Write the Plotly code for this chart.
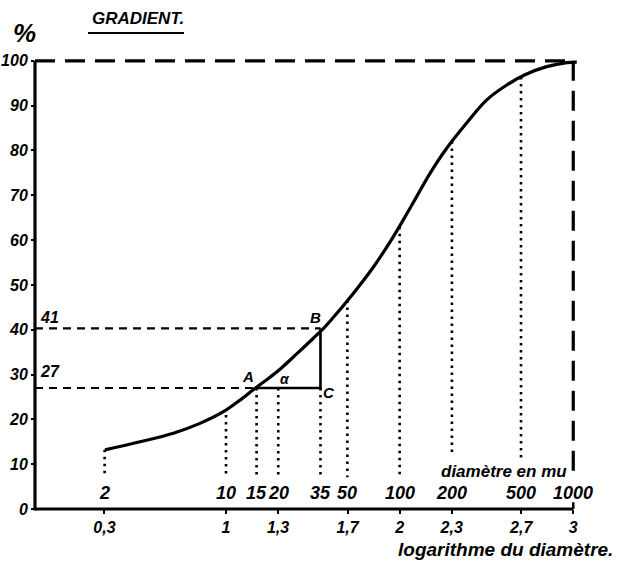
import numpy as np
import plotly.graph_objects as go

# ---- data ----
curve_logd = [0.303, 0.505, 0.697, 0.850, 0.985, 1.081, 1.157, 1.253, 1.311, 1.407,
              1.503, 1.559, 1.599, 1.733, 1.849, 1.945, 2.021, 2.098, 2.175, 2.271,
              2.387, 2.502, 2.617, 2.722, 2.847, 2.963, 3.02]
curve_pct = [13.2, 15.0, 16.9, 19.1, 21.7, 24.3, 26.6, 29.4, 31.2, 34.6,
             38.1, 40.2, 41.9, 48.1, 54.0, 59.6, 64.5, 69.7, 74.9, 80.5,
             86.2, 91.3, 94.6, 96.9, 98.7, 99.6, 99.7]

drop_diam = [2, 10, 15, 20, 35, 50, 100, 200, 500]
drop_top = [13.2, 21, 27, 27, 27, 46.5, 63, 82, 96.4]
drop_bottom = [7.3, 7.3, 7.3, 7.3, 7.3, 7.1, 7.1, 12.5, 10.9]

diam_labels = [2, 10, 15, 20, 35, 50, 100, 200, 500, 1000]
log_ticks = [0.3, 1, 1.3, 1.7, 2, 2.3, 2.7, 3]
log_tick_text = ["0,3", "1", "1,3", "1,7", "2", "2,3", "2,7", "3"]
pct_ticks = [0, 10, 20, 30, 40, 50, 60, 70, 80, 90, 100]

point_A = (15, 27)     # diameter, %
point_B = (35, 40.3)
level_labels = ["27", "41"]

XMIN, XMAX = -0.1, 3.2
YMIN, YMAX = 0, 110
FONT = "Liberation Sans"

fig = go.Figure()

def line(x, y, width, dash="solid", shape="linear"):
    fig.add_trace(go.Scatter(x=x, y=y, mode="lines", hoverinfo="skip",
                             line=dict(color="black", width=width, dash=dash, shape=shape),
                             showlegend=False))

# 100% dashed frame
line([XMIN, 3], [100, 100], 3.2, "20px,10px")
line([3, 3], [100, 8], 3.2, "20px,10px")

# main curve
line(curve_logd, curve_pct, 3.2, shape="spline")

# drop lines
for d, t, b in zip(drop_diam, drop_top, drop_bottom):
    line([np.log10(d), np.log10(d)], [t, b], 2.6, "2.5px,4.5px")

# reference levels
xa, ya = np.log10(point_A[0]), point_A[1]
xb, yb = np.log10(point_B[0]), point_B[1]
line([XMIN, xa], [ya, ya], 2.2, "8px,6px")
line([XMIN, xb], [yb, yb], 2.2, "8px,6px")
# triangle A-C-B
line([xa, xb, xb], [ya, ya, yb], 2.6)

def px(v):
    return (v - XMIN) / (XMAX - XMIN)
def py(v):
    return (v - YMIN) / (YMAX - YMIN)

# axis lines (paper shapes, not clipped)
fig.add_shape(type="line", xref="paper", yref="paper", x0=0, x1=0,
              y0=-0.003, y1=py(100), line=dict(color="black", width=3.2))
fig.add_shape(type="line", xref="paper", yref="paper", x0=0, x1=px(3),
              y0=0, y1=0, line=dict(color="black", width=3))
fig.add_shape(type="line", xref="paper", yref="paper", x0=px(3), x1=px(3),
              y0=0, y1=py(1.5), line=dict(color="black", width=2.5))

ann = []
def text(x, y, s, size=15, xanchor="center", yanchor="middle", xref="x", yref="y"):
    ann.append(dict(x=x, y=y, text=s, xref=xref, yref=yref, showarrow=False,
                    xanchor=xanchor, yanchor=yanchor,
                    font=dict(family=FONT, size=size, color="black",
                              weight="bold", style="italic")))

for d in diam_labels:
    text(np.log10(d), 3.6, str(d), 18)
text(2.975, 8.4, "diamètre en mu", 17, xanchor="right")
text(-0.014, 42.8, level_labels[1], 16)
text(-0.014, 30.6, level_labels[0], 16)
text(xa - 0.05, 29.5, "A", 15)
text(xb - 0.03, 42.8, "B", 15)
text(xb + 0.05, 26.0, "C", 15)
text((xa + xb) / 2 - 0.02, 29.0, "α", 14)

W = 573.0
H = 493.0
text((396 - 35) / W, (509 - 549) / H, "logarithme du diamètre.", 19,
     xanchor="left", xref="paper", yref="paper")
text((138 - 35) / W, (509 - 19) / H, "GRADIENT.", 17,
     xref="paper", yref="paper")
text((24 - 35) / W, (509 - 33) / H, "%", 26, xref="paper", yref="paper")
fig.add_shape(type="line", xref="paper", yref="paper",
              x0=(88 - 35) / W, x1=(184 - 35) / W,
              y0=(509 - 33) / H, y1=(509 - 33) / H,
              line=dict(color="black", width=2))

tickfont = dict(family=FONT, size=16, color="black", weight="bold", style="italic")
fig.update_layout(
    width=619, height=561,
    margin=dict(l=35, r=11, t=16, b=52, autoexpand=False),
    paper_bgcolor="white", plot_bgcolor="white",
    annotations=ann,
    font=dict(family=FONT, size=15, color="black", weight="bold", style="italic"),
    xaxis=dict(range=[XMIN, XMAX], showgrid=False, zeroline=False, showline=False,
               automargin=False,
               tickvals=log_ticks, ticktext=log_tick_text, ticks="outside",
               ticklen=4, tickwidth=2, tickcolor="black", tickfont=tickfont),
    yaxis=dict(range=[YMIN, YMAX], showgrid=False, zeroline=False, showline=False,
               automargin=False,
               tickvals=pct_ticks, ticks="outside", ticklen=3, tickwidth=2,
               tickcolor="black", tickfont=tickfont),
)

fig.write_html("out.html", config={"displayModeBar": False},
               post_script="document.body.style.margin='0px';document.body.style.overflow='hidden';")
